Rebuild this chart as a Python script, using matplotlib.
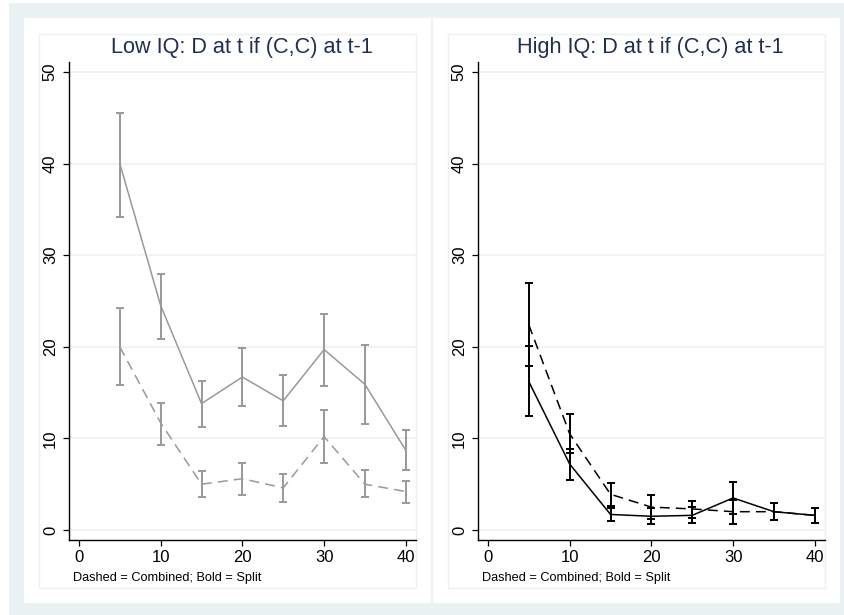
import matplotlib
matplotlib.use("Agg")
import matplotlib.pyplot as plt
from matplotlib.patches import Rectangle

plt.rcParams["font.family"] = ["Liberation Sans", "DejaVu Sans"]

# period (x) shared by every series
periods = [5, 10, 15, 20, 25, 30, 35, 40]

# Low IQ: share of D at t after (C,C) at t-1, with 95% CI
low_split = [40.0, 24.5, 13.8, 16.7, 14.1, 19.7, 15.9, 8.7]
low_split_lo = [34.2, 20.8, 11.2, 13.5, 11.4, 15.7, 11.6, 6.5]
low_split_hi = [45.5, 27.9, 16.3, 19.9, 16.9, 23.6, 20.2, 10.9]
low_comb = [20.0, 11.7, 5.0, 5.6, 4.6, 10.2, 5.0, 4.2]
low_comb_lo = [15.8, 9.3, 3.6, 3.8, 3.1, 7.3, 3.6, 3.0]
low_comb_hi = [24.2, 13.9, 6.4, 7.3, 6.1, 13.1, 6.5, 5.4]

# High IQ
high_split = [16.2, 7.2, 1.7, 1.5, 1.6, 3.5, 2.0, 1.6]
high_split_lo = [12.4, 5.5, 1.0, 0.7, 0.8, 1.8, 1.1, 0.8]
high_split_hi = [20.1, 8.8, 2.4, 2.4, 2.5, 5.2, 2.9, 2.4]
high_comb = [22.4, 10.5, 3.9, 2.5, 2.3, 2.0, 2.0, 1.6]
high_comb_lo = [17.9, 8.4, 2.6, 1.2, 1.3, 0.7, 1.1, 0.8]
high_comb_hi = [27.0, 12.7, 5.1, 3.8, 3.2, 3.3, 2.9, 2.4]

titles = ["Low IQ: D at t if (C,C) at t-1", "High IQ: D at t if (C,C) at t-1"]
note = "Dashed = Combined; Bold = Split"

BG = "#eaf2f3"
TITLE_C = "#1e2f52"
W, H = 844, 615

fig = plt.figure(figsize=(W / 100, H / 100), dpi=100)
fig.patch.set_facecolor("white")


def px_rect(x0, y0, x1, y1, **kw):
    # rectangle given in pixel coords (origin top-left)
    fig.patches.append(Rectangle((x0 / W, 1 - y1 / H), (x1 - x0) / W, (y1 - y0) / H,
                                 transform=fig.transFigure, figure=fig, **kw))


px_rect(9, 3, W, H, facecolor=BG, edgecolor="none", zorder=0)
for off in (0, 409):
    px_rect(24 + off, 18, 431 + off, 603, facecolor="white", edgecolor="none", zorder=1)
    px_rect(39 + off, 34, 416 + off, 588, facecolor="none", edgecolor=BG, lw=1, zorder=2)

panels = [
    (low_split, low_split_lo, low_split_hi, low_comb, low_comb_lo, low_comb_hi, "#999999"),
    (high_split, high_split_lo, high_split_hi, high_comb, high_comb_lo, high_comb_hi, "black"),
]

for i, (sp, sp_lo, sp_hi, cb, cb_lo, cb_hi, col) in enumerate(panels):
    off = 409 * i
    ax = fig.add_axes([(69 + off) / W, 1 - 540 / H, 347 / W, 478 / H])
    ax.set_facecolor("none")
    ax.set_zorder(3)

    for y, lo, hi, ls in ((sp, sp_lo, sp_hi, "-"), (cb, cb_lo, cb_hi, (0, (6.5, 4)))):
        ax.plot(periods, y, color=col, lw=1.1, ls=ls, zorder=3)
        err = [[v - l for v, l in zip(y, lo)], [h - v for v, h in zip(y, hi)]]
        ax.errorbar(periods, y, yerr=err, fmt="none", ecolor=col, elinewidth=1.4,
                    capsize=2.9, capthick=1.4, zorder=4)

    ax.set_xlim(-1.22, 41.25)
    ax.set_ylim(-1.09, 51.09)
    ax.set_xticks(range(0, 41, 10))
    ax.set_yticks(range(0, 51, 10))
    ax.yaxis.grid(True, color=BG, lw=1.2)
    ax.set_axisbelow(True)
    for s in ("top", "right"):
        ax.spines[s].set_visible(False)
    for s in ("left", "bottom"):
        ax.spines[s].set_color("black")
        ax.spines[s].set_linewidth(1.0)
    ax.tick_params(axis="both", direction="out", length=4.5, width=0.9, colors="black")
    ax.tick_params(axis="x", labelsize=12, pad=3)
    ax.tick_params(axis="y", labelsize=12, pad=3.5)
    for lab in ax.get_yticklabels():
        lab.set_rotation(90)
        lab.set_va("center")

    fig.text((241.5 + off) / W, 1 - 48 / H, titles[i], ha="center", va="center",
             fontsize=15.6, color=TITLE_C, zorder=5)
    fig.text((73 + off) / W, 1 - 578 / H, note, ha="left", va="center",
             fontsize=9.2, color="black", zorder=5)

fig.savefig("out.png", dpi=100, facecolor=fig.get_facecolor())
